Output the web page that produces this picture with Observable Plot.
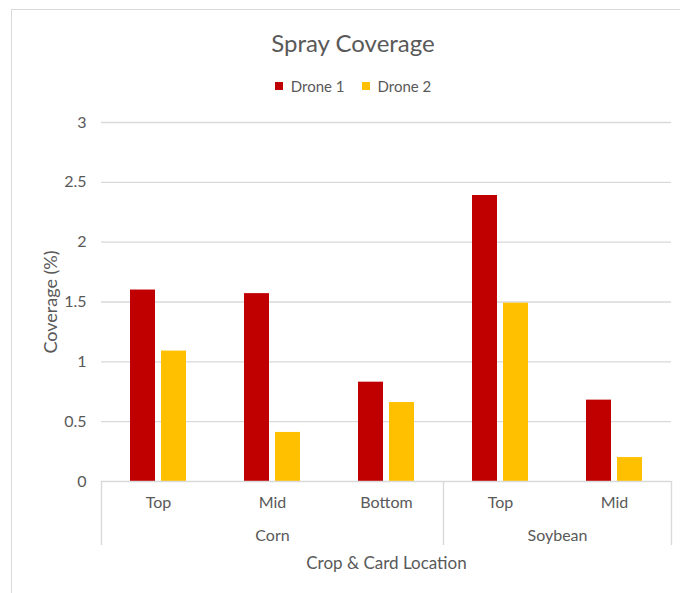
<!DOCTYPE html>
<html>
<head>
<meta charset="utf-8">
<script src="https://cdn.jsdelivr.net/npm/d3@7"></script>
<script src="https://cdn.jsdelivr.net/npm/@observablehq/plot@0.6"></script>
<style>
  html, body { margin: 0; padding: 0; background: #fff; }
  body { width: 680px; height: 593px; overflow: hidden; position: relative; font-family: Lato, "Open Sans", sans-serif; color: #595959; }
  #frame { position: absolute; left: 11px; top: 9px; width: 720px; height: 640px; border-left: 1px solid #d9d9d9; border-top: 1px solid #d9d9d9; }
  #title { position: absolute; left: 11px; width: 684px; top: 28px; text-align: center; font-size: 24px; line-height: 30px; }
  #legend { position: absolute; left: 11px; width: 684px; top: 69px; display: flex; justify-content: center; }
  #legend span { margin-right: 17px; }
  #legend span:last-child { margin-right: 0; }
  #legend span svg { margin-right: 8px; }
  #chart { position: absolute; left: 0; top: 100px; }
</style>
</head>
<body>
<div id="frame"></div>
<div id="title">Spray Coverage</div>
<div id="legend"></div>
<div id="chart"></div>
<script>
// ---- data ----
const crops = ["Corn", "Corn", "Corn", "Soybean", "Soybean"];
const locations = ["Top", "Mid", "Bottom", "Top", "Mid"];
const series = ["Drone 1", "Drone 2"];
const drone1 = [1.60, 1.57, 0.83, 2.39, 0.68];
const drone2 = [1.09, 0.41, 0.66, 1.49, 0.20];
const yTicks = [0, 0.5, 1, 1.5, 2, 2.5, 3];
const colors = ["#c00000", "#ffc000"];

// ---- derived table ----
const keys = crops.map((c, i) => c + "|" + locations[i]);
const values = [drone1, drone2];
const data = keys.flatMap((k, i) => series.map((s, j) => ({key: k, series: s, value: values[j][i]})));
const groups = [];
crops.forEach((c, i) => {
  const last = groups[groups.length - 1];
  if (last && last.name === c) { last.n++; last.lastKey = keys[i]; }
  else groups.push({name: c, firstKey: keys[i], lastKey: keys[i], n: 1});
});

// ---- layout ----
const W = 680, H = 493, ML = 101, MR = 9, MT = 22, MB = 112;
const step = (W - ML - MR) / keys.length;
const axisGray = "#d9d9d9";
const font = "Lato, 'Open Sans', sans-serif";

const sepStyle = {x: null, y1: 0, y2: 0, insetBottom: -64, stroke: axisGray, strokeWidth: 1.4};

const chart = Plot.plot({
  width: W, height: H,
  marginLeft: ML, marginRight: MR, marginTop: MT, marginBottom: MB,
  style: {fontFamily: font, fontSize: "16px", color: "#595959", background: "transparent"},
  fx: {domain: keys, padding: 0, axis: "bottom", tickSize: 0, tickPadding: 15,
       tickFormat: k => k.split("|")[1], label: null},
  x: {domain: series, axis: null, paddingInner: 0.19, paddingOuter: 0.905},
  y: {domain: [0, 3], axis: null},
  color: {domain: series, range: colors},
  marks: [
    Plot.axisY(yTicks, {tickFormat: d => String(d), tickSize: 0, tickPadding: 15, label: null}),
    Plot.axisY({ticks: [], label: "Coverage (%)", labelArrow: false, labelAnchor: "center",
                labelOffset: 57, fontSize: 18}),
    Plot.axisFx({ticks: [], label: "Crop & Card Location", labelArrow: false, labelAnchor: "center",
                 labelOffset: 87, fontSize: 17, anchor: "bottom"}),
    Plot.gridY(yTicks.filter(v => v > 0), {stroke: axisGray, strokeOpacity: 1, strokeWidth: 1.4}),
    Plot.barY(data, {fx: "key", x: "series", y: "value", fill: "series"}),
    Plot.ruleY([0], {stroke: axisGray, strokeWidth: 1.4}),
    Plot.ruleX(groups, {...sepStyle, fx: "firstKey", dx: -step / 2}),
    Plot.ruleX(groups.slice(-1), {...sepStyle, fx: "lastKey", dx: step / 2}),
    ...groups.map(g => Plot.text([g], {fx: "firstKey", text: "name", frameAnchor: "bottom", dy: 59, dx: (g.n - 1) * step / 2, fill: "#595959", fontSize: 16}))
  ]
});
document.getElementById("chart").appendChild(chart);

const legend = Plot.legend({
  color: {domain: series, range: colors},
  swatchSize: 8,
  style: {fontFamily: font, fontSize: "15px", color: "#595959"}
});
document.getElementById("legend").appendChild(legend);
</script>
</body>
</html>
